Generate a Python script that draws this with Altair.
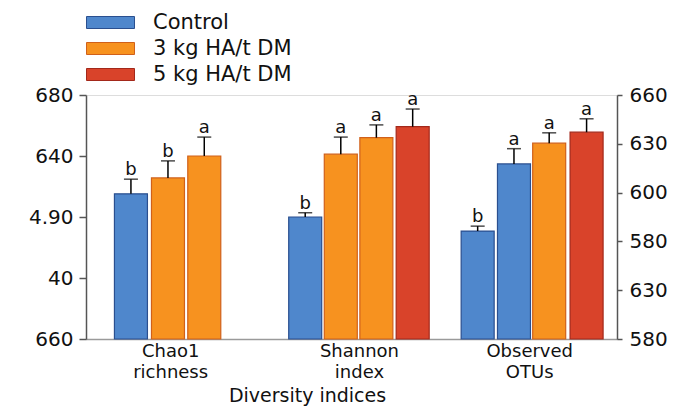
import json
import altair as alt
import pandas as pd

# ---------------- data ----------------
series_names = ["Control", "3 kg HA/t DM", "5 kg HA/t DM"]
fill_colors = ["#4F87CC", "#F7921F", "#D9432A"]
stroke_colors = ["#2A4F8F", "#D0601A", "#A3281A"]

bar_group = ["Chao1 richness"] * 3 + ["Shannon index"] * 4 + ["Observed OTUs"] * 4
bar_series = ["Control", "3 kg HA/t DM", "3 kg HA/t DM",
              "Control", "3 kg HA/t DM", "3 kg HA/t DM", "5 kg HA/t DM",
              "Control", "Control", "3 kg HA/t DM", "5 kg HA/t DM"]
bar_slot = [1.1, 2.12, 3.12, 5.9, 6.88, 7.86, 8.86, 10.65, 11.65, 12.62, 13.65]
bar_mean = [2.38, 2.64, 3.0, 2.0, 3.03, 3.3, 3.48, 1.77, 2.87, 3.21, 3.39]
bar_upper = [2.62, 2.92, 3.31, 2.07, 3.31, 3.51, 3.77, 1.85, 3.12, 3.38, 3.61]
bar_letter = ["b", "b", "a", "b", "a", "a", "a", "b", "a", "a", "a"]

group_centers = [2.18, 7.38, 12.07]
group_labels = [["Chao1", "richness"], ["Shannon", "index"], ["Observed", "OTUs"]]
left_tick_values = [0, 1, 2, 3, 4]
left_tick_labels = ["660", "40", "4.90", "640", "680"]
right_tick_values = [0, 1, 2, 3, 4, 5]
right_tick_labels = ["580", "630", "580", "600", "630", "660"]

df = pd.DataFrame({
    "group": bar_group, "series": bar_series, "slot": bar_slot,
    "mean": bar_mean, "upper": bar_upper, "letter": bar_letter,
})
right_df = pd.DataFrame({"rv": right_tick_values})

FONT = "DejaVu Sans"

x_label_expr = (
    f"datum.value < 4 ? {json.dumps(group_labels[0])} : "
    f"datum.value < 10 ? {json.dumps(group_labels[1])} : {json.dumps(group_labels[2])}"
)

x_enc = alt.X(
    "slot:Q",
    scale=alt.Scale(domain=[0, 14.35], nice=False, zero=False),
    axis=alt.Axis(
        values=group_centers, labelExpr=x_label_expr, ticks=False, grid=False,
        domainColor="#9a9a9a", domainWidth=1.5, labelFont=FONT, labelFontSize=18,
        labelColor="#111", labelLineHeight=21, labelPadding=3, labelFlush=False,
        labelOverlap=False, title="Diversity indices", titleFont=FONT,
        titleFontSize=19, titleFontWeight="normal", titleColor="#111",
        titleX=221, titleY=62, titleBaseline="alphabetic",
    ),
)

y_left = alt.Y(
    "mean:Q",
    scale=alt.Scale(domain=[0, 4], nice=False),
    axis=alt.Axis(
        values=left_tick_values,
        labelExpr=f"{json.dumps(left_tick_labels)}[datum.value]",
        title=None, grid=False, tickSize=7, tickColor="#555", tickWidth=1.5,
        domainColor="#555", domainWidth=1.5, labelFont=FONT, labelFontSize=20,
        labelColor="#111", labelPadding=6,
    ),
)

bars = alt.Chart(df).mark_bar(size=33, strokeWidth=1.2).encode(
    x=x_enc,
    y=y_left,
    fill=alt.Fill(
        "series:N",
        scale=alt.Scale(domain=series_names, range=fill_colors),
        legend=alt.Legend(
            title=None, orient="none", legendX=14, legendY=-83,
            symbolType="M-4,-1L4,-1L4,1L-4,1Z", symbolSize=144,
            symbolStrokeWidth=1, labelOffset=32, rowPadding=4,
            labelFont=FONT, labelFontSize=21, labelColor="#111",
        ),
    ),
    stroke=alt.Stroke(
        "series:N", scale=alt.Scale(domain=series_names, range=stroke_colors),
    ),
)

rules = alt.Chart(df).mark_rule(color="black", strokeWidth=1.5).encode(
    x="slot:Q", y="mean:Q", y2="upper:Q"
)
caps = alt.Chart(df).mark_tick(orient="horizontal", size=14, thickness=1.5, color="black").encode(
    x="slot:Q", y="upper:Q"
)
letters = alt.Chart(df).mark_text(baseline="alphabetic", dy=-4, fontSize=18, font=FONT, color="#111").encode(
    x="slot:Q", y="upper:Q", text="letter:N"
)

left = alt.layer(bars, rules, caps, letters)

right = alt.Chart(right_df).mark_point(opacity=0).encode(
    x=alt.value(0),
    y=alt.Y(
        "rv:Q",
        scale=alt.Scale(domain=[0, 5], nice=False),
        axis=alt.Axis(
            orient="right", values=right_tick_values,
            labelExpr=f"{json.dumps(right_tick_labels)}[datum.value]",
            title=None, grid=False, tickSize=5, tickColor="#555", tickWidth=1.5,
            domainColor="#555", domainWidth=1.5, labelFont=FONT, labelFontSize=20,
            labelColor="#111", labelPadding=7,
        ),
    ),
)

chart = (
    alt.layer(left, right)
    .resolve_scale(y="independent")
    .properties(
        width=531, height=244,
        autosize=alt.AutoSizeParams(type="none"),
        padding={"left": 78, "top": 87, "right": 69, "bottom": 67},
    )
    .configure_view(stroke=None)
    .configure(background="white")
)

chart.save("out.html", embed_options={"renderer": "svg", "actions": False})
